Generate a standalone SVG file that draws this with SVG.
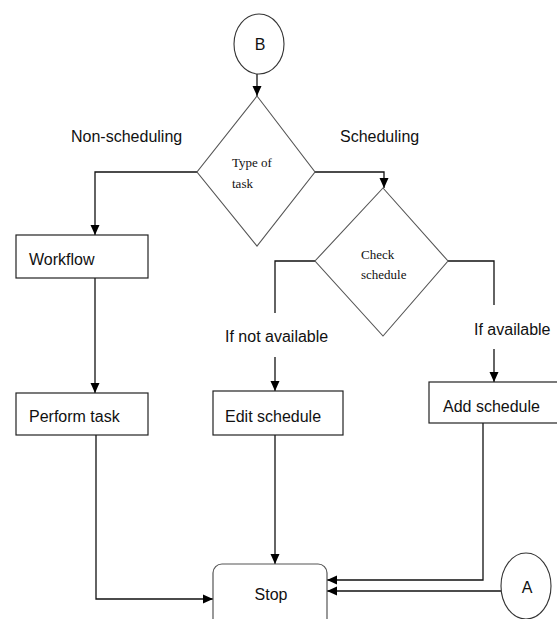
<svg xmlns="http://www.w3.org/2000/svg" width="557" height="619" viewBox="0 0 557 619">
<style>
.lbl{font-family:"Liberation Sans",Arial,sans-serif;font-size:16px;fill:#111}
.ser{font-family:"Liberation Serif","Times New Roman",serif;font-size:13px;fill:#111}
.box{fill:#fff;stroke:#222;stroke-width:1.2}
.dia{fill:#fff;stroke:#555;stroke-width:1.1}
.con{fill:none;stroke:#111;stroke-width:1.3}
</style>
<defs>
<marker id="arr" markerUnits="userSpaceOnUse" markerWidth="10" markerHeight="10" refX="10" refY="5" orient="auto">
<path d="M0,0.5 L10,5 L0,9.5 Z" fill="#000"/>
</marker>
</defs>
<rect width="557" height="619" fill="#fff"/>
<g id="connectors">
<path class="con" d="M257,74 V96" marker-end="url(#arr)"/>
<path class="con" d="M315,172 H384 V188" marker-end="url(#arr)"/>
<path class="con" d="M197,172 H95 V235" marker-end="url(#arr)"/>
<path class="con" d="M95,278 V393" marker-end="url(#arr)"/>
<path class="con" d="M315,261 H275 V313"/>
<path class="con" d="M275,357 V391" marker-end="url(#arr)"/>
<path class="con" d="M448,261 H494 V305"/>
<path class="con" d="M494,349 V382" marker-end="url(#arr)"/>
<path class="con" d="M96,435 V599 H213" marker-end="url(#arr)"/>
<path class="con" d="M275,435 V564" marker-end="url(#arr)"/>
<path class="con" d="M483,423 V580 H327" marker-end="url(#arr)"/>
<path class="con" d="M501,591 H327" marker-end="url(#arr)"/>
</g>
<g id="B">
<ellipse cx="259" cy="44" rx="25" ry="30" fill="#fff" stroke="#333" stroke-width="1.1"/>
<text class="lbl" x="260" y="50" text-anchor="middle" font-size="17">B</text>
</g>
<g id="type-of-task">
<polygon class="dia" points="257,96 315,172 257,246 197,172"/>
<text class="ser" x="232" y="167">Type of</text>
<text class="ser" x="232" y="188">task</text>
</g>
<g id="check-schedule">
<polygon class="dia" points="383,188 448,261 383,336 315,261"/>
<text class="ser" x="361" y="259">Check</text>
<text class="ser" x="361" y="279">schedule</text>
</g>
<g id="labels">
<text class="lbl" x="71" y="142">Non-scheduling</text>
<text class="lbl" x="340" y="142">Scheduling</text>
<text class="lbl" x="225" y="342">If not available</text>
<text class="lbl" x="474" y="335">If available</text>
</g>
<g id="workflow">
<rect class="box" x="16" y="235" width="132" height="43"/>
<text class="lbl" x="29" y="265">Workflow</text>
</g>
<g id="perform-task">
<rect class="box" x="16" y="393" width="132" height="42"/>
<text class="lbl" x="29" y="422">Perform task</text>
</g>
<g id="edit-schedule">
<rect class="box" x="213" y="391" width="130" height="44"/>
<text class="lbl" x="225" y="422">Edit schedule</text>
</g>
<g id="add-schedule">
<rect class="box" x="429" y="382" width="140" height="41"/>
<text class="lbl" x="443" y="412">Add schedule</text>
</g>
<g id="stop">
<rect x="213" y="564" width="114" height="70" rx="9" fill="#fff" stroke="#555" stroke-width="1.2"/>
<text class="lbl" x="271" y="600" text-anchor="middle">Stop</text>
</g>
<g id="A">
<ellipse cx="526" cy="586" rx="25" ry="33" fill="#fff" stroke="#333" stroke-width="1.1"/>
<text class="lbl" x="527" y="593" text-anchor="middle" font-size="17">A</text>
</g>
</svg>
